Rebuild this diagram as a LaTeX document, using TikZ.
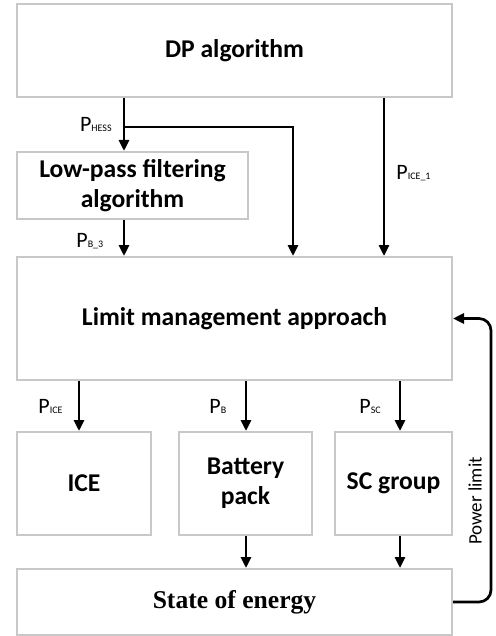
\documentclass[tikz,border=0pt]{standalone}
\usepackage{fontspec}
\setmainfont{Carlito}
\newfontfamily\soefont{Liberation Serif}
\usetikzlibrary{arrows.meta}
\definecolor{boxgray}{RGB}{200,200,200}
\newcommand{\psig}[1]{P{\fontsize{5}{6}\selectfont #1}}
\tikzset{
  blockbox/.style={draw=boxgray,line width=1pt,align=center,inner sep=0pt,
    font=\fontsize{12.8}{15}\selectfont\bfseries},
  flow/.style={->,line width=1.35pt},
  siglabel/.style={font=\fontsize{11}{13}\selectfont,inner sep=0pt}
}
\begin{document}
\begin{tikzpicture}[x=0.5pt,y=-0.5pt,>={Triangle[width=5pt,length=5.5pt]}]
\useasboundingbox (0,0) rectangle (496,636);
% blocks
\node[blockbox,minimum width=217.5pt,minimum height=46.5pt] (dp) at (234.5,50.5) {DP algorithm};
\node[blockbox,minimum width=115.5pt,minimum height=33.5pt] (lp) at (132.5,185.5) {Low-pass filtering\\algorithm};
\node[blockbox,minimum width=217.5pt,minimum height=61.5pt] (lim) at (234.5,318.5) {Limit management approach};
\node[blockbox,minimum width=67pt,minimum height=51.5pt] (ice) at (84,483.5) {ICE};
\node[blockbox,minimum width=66.5pt,minimum height=51.5pt] (bat) at (245.5,483.5) {Battery\\pack};
\node[blockbox,minimum width=58.5pt,minimum height=51.5pt] (sc) at (393.5,483.5) {SC group};
\node[blockbox,minimum width=217.5pt,minimum height=33pt,font=\fontsize{12.8}{15}\selectfont\soefont\bfseries] (soe) at (234.5,602) {State of energy};
% x positions of the connectors
\coordinate (xh) at (124,0);
\coordinate (xm) at (293,0);
\coordinate (xi) at (384,0);
\coordinate (xa) at (79,0);
\coordinate (xb) at (246,0);
\coordinate (xs) at (400,0);
\coordinate (br) at (124,127);
\coordinate (fb) at (491,0);
% connectors
\draw[flow] (dp.south -| xh) -- (lp.north -| xh);
\draw[flow] (br) -- (br -| xm) -- (lim.north -| xm);
\draw[flow] (dp.south -| xi) -- (lim.north -| xi);
\draw[flow] (lp.south -| xh) -- (lim.north -| xh);
\draw[flow] (lim.south -| xa) -- (ice.north -| xa);
\draw[flow] (lim.south -| xb) -- (bat.north -| xb);
\draw[flow] (lim.south -| xs) -- (sc.north -| xs);
\draw[flow] (bat.south -| xb) -- (soe.north -| xb);
\draw[flow] (sc.south -| xs) -- (soe.north -| xs);
\draw[flow,rounded corners=6pt] (soe.east) -- (soe.east -| fb) -- (lim.east -| fb) -- (lim.east);
% labels
\node[siglabel,anchor=base east] (lhess) at (112,132) {\psig{HESS}};
\node[siglabel,anchor=base west] (lice1) at (396,180) {\psig{ICE\_1}};
\node[siglabel,anchor=base west] (lb3) at (76,247) {\psig{B\_3}};
\node[siglabel,anchor=base west] (lice) at (38,413) {\psig{ICE}};
\node[siglabel,anchor=base west] (lb) at (209,413) {\psig{B}};
\node[siglabel,anchor=base west] (lsc) at (359,413) {\psig{SC}};
\node[siglabel,font=\fontsize{9.5}{11}\selectfont,rotate=90] (lpow) at (475,501) {Power limit};
\end{tikzpicture}
\end{document}
